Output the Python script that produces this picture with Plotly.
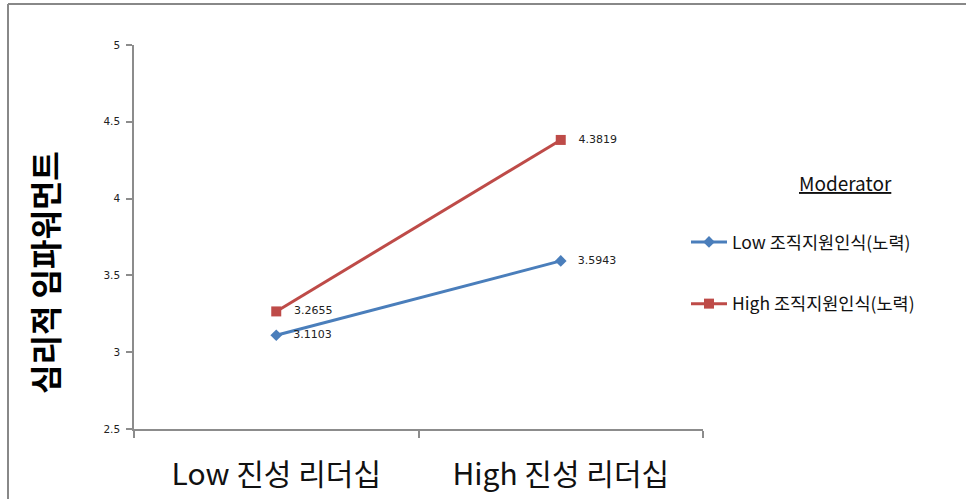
import plotly.graph_objects as go

categories = ["Low 진성 리더십", "High 진성 리더십"]
series_names = ["Low 조직지원인식(노력)", "High 조직지원인식(노력)"]
low_support = [3.1103, 3.5943]
high_support = [3.2655, 4.3819]
y_ticks = [2.5, 3, 3.5, 4, 4.5, 5]
y_title = "심리적 임파워먼트"
legend_title = "Moderator"

W, H = 966, 499
L, R, T, B = 134, W - 703, 45, H - 429
PW, PH = W - L - R, H - T - B

def px(x):
    return (x - L) / PW

def py(y):
    return (H - B - y) / PH

KR = "Noto Sans CJK KR"

fig = go.Figure()
fig.add_trace(go.Scatter(
    x=categories, y=low_support, name=series_names[0], mode="lines+markers+text",
    line=dict(color="#4A7EBB", width=3),
    marker=dict(symbol="diamond", size=9, color="#4A7EBB"),
    text=[f"   {v:.4f}" for v in low_support], textposition="middle right",
    textfont=dict(family="DejaVu Sans", size=11, color="#222"),
    legendgroup="a", cliponaxis=False,
))
fig.add_trace(go.Scatter(
    x=categories, y=high_support, name=series_names[1], mode="lines+markers+text",
    line=dict(color="#BE4B48", width=3),
    marker=dict(symbol="square", size=10, color="#BE4B48"),
    text=[f"   {v:.4f}" for v in high_support], textposition="middle right",
    textfont=dict(family="DejaVu Sans", size=11, color="#222"),
    legendgroup="b", cliponaxis=False,
))

fig.update_layout(
    width=W, height=H,
    margin=dict(l=L, r=R, t=T, b=B, autoexpand=False),
    paper_bgcolor="white", plot_bgcolor="white",
    showlegend=True,
    legend=dict(x=px(686), y=py(224), xanchor="left", yanchor="top",
                font=dict(family=KR, size=17.5, color="#111"),
                tracegroupgap=36, itemwidth=36, bgcolor="rgba(0,0,0,0)"),
    xaxis=dict(type="category", range=[-0.5, 1.5], tickson="boundaries",
               showline=True, linecolor="#8c8c8c", linewidth=1.5,
               ticks="outside", ticklen=7, tickcolor="#8c8c8c", tickwidth=1.5,
               showgrid=False, zeroline=False,
               tickfont=dict(family=KR, size=30, color="#111"),
               ticklabelstandoff=18),
    yaxis=dict(range=[2.5, 5], tickvals=y_ticks, ticktext=[str(v) for v in y_ticks],
               showline=True, linecolor="#8c8c8c", linewidth=1.5,
               ticks="outside", ticklen=6, tickcolor="#8c8c8c", tickwidth=1.5,
               showgrid=False, zeroline=False,
               tickfont=dict(family="DejaVu Sans", size=10.5, color="#222"),
               ticklabelstandoff=4),
    annotations=[
        dict(text=f"<b>{y_title}</b>", x=px(44), y=py(273), xref="paper", yref="paper",
             xanchor="center", yanchor="middle",
             textangle=-90, showarrow=False, font=dict(family=KR, size=32, color="#000")),
        dict(text=f"<u>{legend_title}</u>", x=px(845), y=py(182), xref="paper", yref="paper",
             xanchor="center", yanchor="middle",
             showarrow=False, font=dict(family=KR, size=19, color="#111")),
    ],
    shapes=[
        dict(type="line", xref="paper", yref="paper", x0=px(8), x1=px(966), y0=py(4), y1=py(4),
             line=dict(color="#888", width=2)),
        dict(type="line", xref="paper", yref="paper", x0=px(8), x1=px(8), y0=py(4), y1=py(499),
             line=dict(color="#888", width=2)),
    ],
)

fig.write_html("out.html")
